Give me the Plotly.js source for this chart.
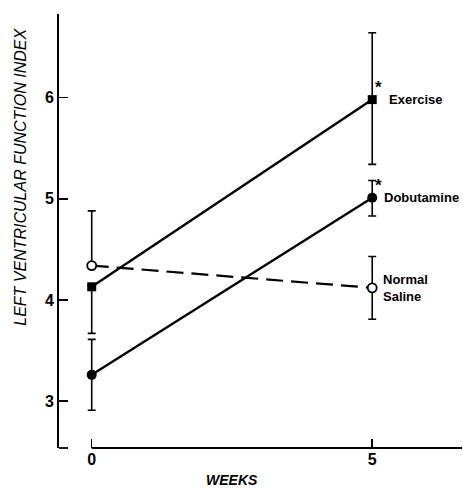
<!DOCTYPE html>
<html>
<head>
<meta charset="utf-8">
<script src="https://cdn.plot.ly/plotly-3.0.1.min.js"></script>
<style>html,body{margin:0;padding:0;background:#fff;}#chart{width:463px;height:490px;}</style>
</head>
<body>
<div id="chart"></div>
<script>
const weeks = [0, 5];
const tickLabelsX = ["0", "5"];
const tickValsY = [3, 4, 5, 6];
const seriesNames = ["Exercise", "Dobutamine", "Normal<br>Saline"];

const exercise = [4.13, 5.98];
const exercisePlus = [0, 0.66];
const exerciseMinus = [0.46, 0.64];

const dobutamine = [3.26, 5.01];
const dobutaminePlus = [0.35, 0.17];
const dobutamineMinus = [0.35, 0.18];

const saline = [4.34, 4.12];
const salinePlus = [0.54, 0.31];
const salineMinus = [0, 0.31];

const FONT = "Liberation Sans, Arial, sans-serif";

function errBar(plus, minus) {
  return {type: 'data', symmetric: false, array: plus, arrayminus: minus,
          color: '#000', thickness: 1.6, width: 4};
}

const traces = [
  {x: weeks, y: saline, mode: 'lines+markers', name: 'Normal Saline',
   line: {color: '#000', width: 2.2, dash: '17px,8px'},
   marker: {symbol: 'circle', size: 9, color: '#fff', line: {color: '#000', width: 1.8}},
   error_y: errBar(salinePlus, salineMinus)},
  {x: weeks, y: exercise, mode: 'lines+markers', name: 'Exercise',
   line: {color: '#000', width: 2.4},
   marker: {symbol: 'square', size: 9, color: '#000'},
   error_y: errBar(exercisePlus, exerciseMinus)},
  {x: weeks, y: dobutamine, mode: 'lines+markers', name: 'Dobutamine',
   line: {color: '#000', width: 2.4},
   marker: {symbol: 'circle', size: 10, color: '#000'},
   error_y: errBar(dobutaminePlus, dobutamineMinus)}
];

const x0 = -0.583, x1 = 6.60;
const layout = {
  width: 463, height: 490,
  margin: {l: 59, r: 1, t: 14, b: 42},
  paper_bgcolor: '#fff', plot_bgcolor: '#fff',
  showlegend: false,
  font: {family: FONT, color: '#000'},
  xaxis: {
    range: [x0, x1], showline: false, zeroline: false, showgrid: false,
    tickvals: weeks, ticktext: tickLabelsX, ticks: 'inside', ticklen: 9,
    tickwidth: 1.5, tickcolor: '#000',
    tickfont: {family: FONT, size: 16, weight: 'bold'}
  },
  yaxis: {
    range: [2.537, 6.826], showline: true, linecolor: '#000', linewidth: 1.8,
    zeroline: false, showgrid: false,
    tickvals: tickValsY, ticktext: tickValsY.map(String),
    ticks: 'inside', ticklen: 9, tickwidth: 1.5, tickcolor: '#000',
    tickfont: {family: FONT, size: 16, weight: 'bold'}
  },
  shapes: [
    {type: 'line', xref: 'x', yref: 'paper', x0: 0, x1: x1, y0: 0, y1: 0,
     line: {color: '#000', width: 1.8}},
    {type: 'line', xref: 'paper', yref: 'paper', x0: 0, x1: 9/403, y0: 0, y1: 0,
     line: {color: '#000', width: 1.8}}
  ],
  annotations: [
    {text: seriesNames[0], x: 5.26, y: exercise[1], xref: 'x', yref: 'y',
     xanchor: 'left', yanchor: 'middle', showarrow: false,
     font: {family: FONT, size: 13, weight: 'bold'}},
    {text: seriesNames[1], x: 5.18, y: dobutamine[1], xref: 'x', yref: 'y',
     xanchor: 'left', yanchor: 'middle', showarrow: false,
     font: {family: FONT, size: 13, weight: 'bold'}},
    {text: seriesNames[2], x: 5.15, y: saline[1], xref: 'x', yref: 'y',
     xanchor: 'left', yanchor: 'middle', align: 'left', showarrow: false,
     font: {family: FONT, size: 13, weight: 'bold'}},
    {text: '*', x: 5.12, y: 6.10, xref: 'x', yref: 'y', showarrow: false,
     font: {family: FONT, size: 17, weight: 'bold'}},
    {text: '*', x: 5.12, y: 5.13, xref: 'x', yref: 'y', showarrow: false,
     font: {family: FONT, size: 17, weight: 'bold'}},
    {text: 'WEEKS', x: 2.5, y: 0, xref: 'x', yref: 'paper', yshift: -32,
     xanchor: 'center', yanchor: 'middle', showarrow: false,
     font: {family: FONT, size: 14, weight: 'bold', style: 'italic'}},
    {text: 'LEFT VENTRICULAR FUNCTION INDEX', xref: 'paper', yref: 'paper',
     x: 0, xshift: -38, y: 0.625, textangle: -90, xanchor: 'center', yanchor: 'middle',
     showarrow: false,
     font: {family: FONT, size: 16, style: 'italic'}}
  ]
};

Plotly.newPlot('chart', traces, layout, {displayModeBar: false, staticPlot: true});
</script>
</body>
</html>
